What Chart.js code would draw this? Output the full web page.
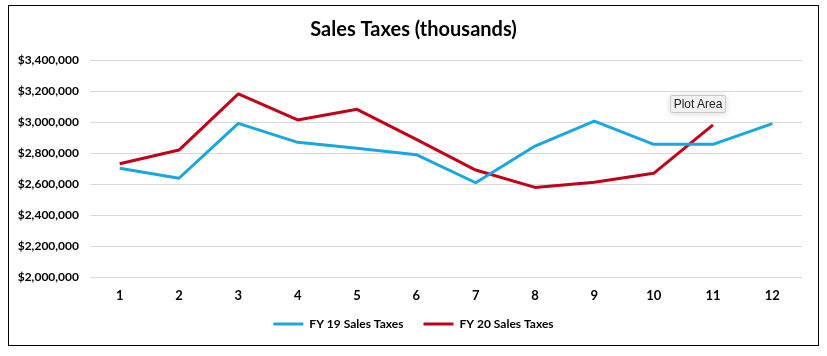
<!DOCTYPE html>
<html>
<head>
<meta charset="utf-8">
<script src="https://cdn.jsdelivr.net/npm/chart.js@4.4.1/dist/chart.umd.min.js"></script>
<style>
  html, body { margin: 0; padding: 0; background: #fff; }
  body { width: 827px; height: 356px; position: relative; overflow: hidden; }
  #frame { position: absolute; left: 8px; top: 5px; width: 809px; height: 339px; border: 1px solid #000; }
  #wrap { position: absolute; left: 0; top: 0; width: 809px; height: 339px; }
  #tip { position: absolute; left: 670px; top: 95px; width: 56px; height: 18px; box-sizing: border-box;
         background: #f1f1f1; border: 1px solid #c9c9c9; border-radius: 2px;
         box-shadow: 0 1px 6px rgba(0,0,0,0.15);
         font: 12px "Liberation Sans", Arial, sans-serif; color: #222; text-align: center; line-height: 16px; }
</style>
</head>
<body>
<div id="frame"><div id="wrap"><canvas id="c"></canvas></div></div>
<div id="tip">Plot Area</div>
<script>
const chartTitle = "Sales Taxes (thousands)";
const categories = ["1", "2", "3", "4", "5", "6", "7", "8", "9", "10", "11", "12"];
const seriesNames = ["FY 19 Sales Taxes", "FY 20 Sales Taxes"];
const fy19 = [2701000, 2637000, 2991000, 2869000, 2830000, 2789000, 2608000, 2845000, 3006000, 2856000, 2856000, 2989000];
const fy20 = [2731000, 2819000, 3181000, 3013000, 3082000, 2888000, 2690000, 2578000, 2611000, 2669000, 2981000, null];
const yMin = 2000000, yMax = 3400000, yStep = 200000;

const FONT = "Lato, 'Open Sans', sans-serif";

// nudge the legend row up a little (its label padding also sets item spacing)
const legendShift = {
  id: 'legendShift',
  afterLayout(chart) { const l = chart.legend; if (l) { l.top -= 7; l.bottom -= 7; } }
};

new Chart(document.getElementById('c'), {
  type: 'line',
  data: {
    labels: categories,
    datasets: [
      { label: seriesNames[0], data: fy19, borderColor: '#1AA6DE', backgroundColor: '#1AA6DE',
        borderWidth: 3, pointRadius: 0, tension: 0, borderJoinStyle: 'round', spanGaps: false },
      { label: seriesNames[1], data: fy20, borderColor: '#C00018', backgroundColor: '#C00018',
        borderWidth: 3, pointRadius: 0, tension: 0, borderJoinStyle: 'round', spanGaps: false }
    ]
  },
  plugins: [legendShift],
  options: {
    responsive: true,
    maintainAspectRatio: false,
    animation: false,
    layout: { padding: { left: 0, right: 0, top: 0, bottom: 6 } },
    plugins: {
      title: {
        display: true, text: chartTitle, color: '#000',
        font: { family: FONT, size: 20, weight: 'bold' },
        padding: { top: 12, bottom: 18 }
      },
      legend: {
        display: true, position: 'bottom', maxHeight: 34,
        labels: {
          usePointStyle: true, pointStyle: 'line', pointStyleWidth: 30,
          color: '#000', padding: 20,
          font: { family: FONT, size: 12, weight: 'bold' }
        }
      },
      tooltip: { enabled: false }
    },
    scales: {
      x: {
        offset: true,
        afterFit: (s) => { s.height = 28; },
        grid: { display: false, drawTicks: false },
        border: { display: false },
        ticks: { color: '#000', padding: 11, font: { family: FONT, size: 13, weight: 'bold' } }
      },
      y: {
        min: yMin, max: yMax,
        afterFit: (s) => { s.width = 81; },
        grid: { color: '#d9d9d9', lineWidth: 1, drawTicks: false },
        border: { display: false },
        ticks: {
          stepSize: yStep, color: '#000', padding: 11,
          font: { family: FONT, size: 12, weight: 'bold' },
          callback: (v) => '$' + Number(v).toLocaleString('en-US')
        }
      },
      yRightSpace: {
        position: 'right', display: true,
        afterFit: (s) => { s.width = 16; },
        grid: { display: false, drawTicks: false },
        border: { display: false },
        ticks: { display: false }
      }
    }
  }
});
</script>
</body>
</html>
